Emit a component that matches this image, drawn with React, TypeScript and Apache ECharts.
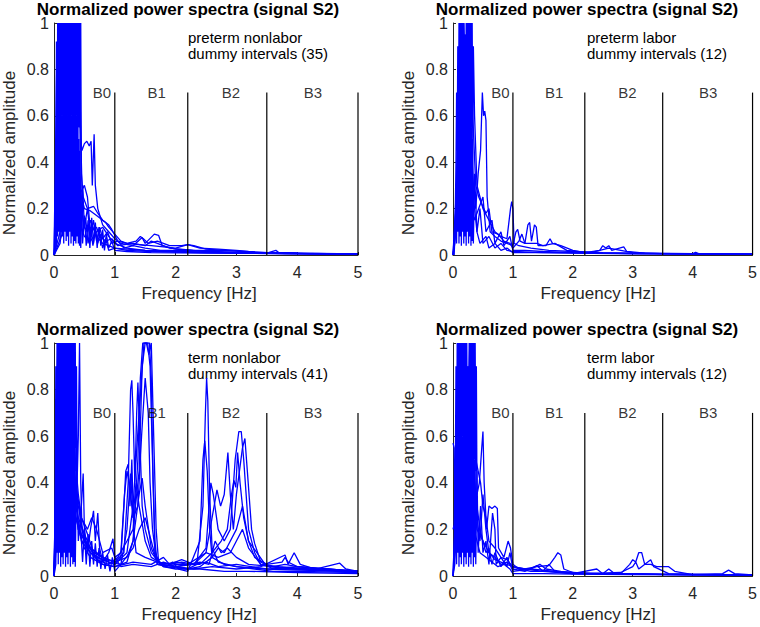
import React, { useEffect, useRef } from "react";
import * as echarts from "echarts";

type Pt = [number, number];

const xTicks = [0, 1, 2, 3, 4, 5];
const bandEdges = [1, 2.2, 3.5, 5];
const bandTop = 0.7;
const bandNames = ["B0", "B1", "B2", "B3"];
const bandLabelX = [0.79, 1.69, 2.91, 4.26];

const panelTitles = [
  "Normalized power spectra (signal S2)",
  "Normalized power spectra (signal S2)",
  "Normalized power spectra (signal S2)",
  "Normalized power spectra (signal S2)",
];
const groupNames = ["preterm nonlabor", "preterm labor", "term nonlabor", "term labor"];
const intervalCounts = [35, 12, 41, 12];

// preterm nonlabor
const ptNonlaborLines: Pt[][] = [
  [[0,0],[0.02,0.05],[0.03,0.3],[0.04,0.92],[0.05,0.45],[0.06,1],[0.07,0.5],[0.08,1],[0.09,0.55],[0.1,1],[0.11,0.45],[0.12,1],[0.13,0.6],[0.14,1],[0.15,0.5],[0.16,1],[0.17,0.55],[0.18,1],[0.19,0.45],[0.2,1],[0.21,0.6],[0.22,1],[0.23,0.5],[0.24,1],[0.25,0.55],[0.26,1],[0.27,0.45],[0.28,1],[0.29,0.6],[0.3,1],[0.31,0.5],[0.32,1],[0.33,0.55],[0.34,1],[0.35,0.45],[0.36,1],[0.37,0.6],[0.38,1],[0.39,0.5],[0.4,1],[0.41,0.55],[0.42,1],[0.43,0.45],[0.44,1],[0.45,0.35],[0.48,0.25],[0.55,0.2],[0.65,0.21],[0.72,0.18],[0.8,0.15],[0.9,0.13],[0.95,0.11],[1.05,0.06],[1.2,0.05],[1.4,0.045],[1.6,0.04],[1.8,0.035],[2.0,0.03],[2.2,0.045],[2.3,0.04],[2.5,0.025],[2.8,0.02],[3.0,0.018],[3.3,0.012],[3.6,0.01],[4,0.008],[4.5,0.006],[5,0.005]],
  [[0,0],[0.04,0.05],[0.05,0.5],[0.06,0.08],[0.07,0.65],[0.08,0.1],[0.09,0.6],[0.1,0.06],[0.11,0.65],[0.12,0.1],[0.13,0.6],[0.14,0.08],[0.15,0.65],[0.16,0.05],[0.17,0.6],[0.18,0.1],[0.19,0.65],[0.2,0.06],[0.21,0.6],[0.22,0.08],[0.23,0.65],[0.24,0.04],[0.25,0.6],[0.26,0.1],[0.27,0.65],[0.28,0.05],[0.29,0.6],[0.3,0.08],[0.31,0.65],[0.32,0.04],[0.33,0.6],[0.34,0.06],[0.35,0.65],[0.36,0.05],[0.37,0.6],[0.38,0.08],[0.39,0.55],[0.4,0.05],[0.41,0.5],[0.42,0.04],[0.43,0.45],[0.44,0.03],[0.47,0.3],[0.5,0.12],[0.55,0.1],[0.6,0.15],[0.7,0.08],[0.8,0.05],[0.9,0.04],[1,0.03],[1.2,0.025],[1.5,0.02],[2,0.015],[2.5,0.01],[3,0.008],[4,0.005],[5,0.004]],
  [[0.01,0],[0.04,0.2],[0.06,0.85],[0.08,0.5],[0.1,1],[0.12,0.6],[0.14,1],[0.16,0.5],[0.18,1],[0.2,0.55],[0.22,1],[0.24,0.5],[0.26,1],[0.28,0.6],[0.3,1],[0.32,0.55],[0.34,1],[0.36,0.5],[0.38,1],[0.4,0.6],[0.42,0.9],[0.44,0.5],[0.46,0.45],[0.5,0.48],[0.54,0.49],[0.58,0.47],[0.61,0.49],[0.63,0.3],[0.66,0.52],[0.68,0.3],[0.72,0.2],[0.8,0.13],[0.9,0.1],[1.0,0.07],[1.1,0.05],[1.3,0.04],[1.45,0.075],[1.5,0.05],[1.65,0.09],[1.72,0.085],[1.78,0.04],[2,0.025],[2.5,0.015],[3,0.01],[3.5,0.008],[3.65,0.02],[3.7,0.01],[4.2,0.006],[5,0.004]],
  [[0,0],[0.05,0.15],[0.1,0.6],[0.15,0.9],[0.2,0.7],[0.3,0.5],[0.4,0.35],[0.45,0.25],[0.5,0.2],[0.6,0.19],[0.7,0.17],[0.8,0.15],[0.85,0.14],[0.9,0.12],[1,0.09],[1.1,0.06],[1.2,0.05],[1.35,0.06],[1.42,0.08],[1.47,0.07],[1.55,0.05],[1.7,0.06],[1.9,0.04],[2.1,0.04],[2.2,0.045],[2.4,0.03],[2.7,0.025],[3,0.02],[3.2,0.015],[3.5,0.01],[4,0.007],[5,0.005]],
  [[0,0],[0.05,0.9],[0.08,0.3],[0.12,0.15],[0.2,0.2],[0.3,0.1],[0.4,0.15],[0.5,0.08],[0.6,0.06],[0.7,0.1],[0.8,0.12],[0.9,0.08],[1,0.05],[1.2,0.03],[1.5,0.02],[2,0.015],[3,0.01],[5,0.004]],
  [[0,0],[0.1,0.05],[0.2,0.3],[0.3,0.2],[0.4,0.25],[0.5,0.3],[0.55,0.25],[0.6,0.1],[0.7,0.12],[0.75,0.08],[0.85,0.06],[0.95,0.07],[1.05,0.04],[1.3,0.05],[1.5,0.04],[1.6,0.06],[1.7,0.05],[1.9,0.03],[2.3,0.02],[2.8,0.02],[3.2,0.012],[4,0.008],[5,0.005]],
  [[0,0],[0.15,0.1],[0.3,0.6],[0.4,0.9],[0.44,0.5],[0.48,0.1],[0.52,0.16],[0.56,0.05],[0.6,0.12],[0.64,0.04],[0.68,0.1],[0.72,0.05],[0.76,0.09],[0.8,0.03],[0.85,0.07],[0.9,0.02],[1,0.03],[1.2,0.02],[1.6,0.015],[2.4,0.01],[5,0.004]],
  [[0,0],[0.06,0.7],[0.1,0.95],[0.2,0.6],[0.3,0.35],[0.45,0.2],[0.5,0.12],[0.55,0.2],[0.6,0.08],[0.65,0.15],[0.7,0.06],[0.75,0.12],[0.8,0.07],[0.88,0.1],[0.95,0.05],[1.05,0.06],[1.15,0.03],[1.3,0.04],[1.5,0.03],[1.75,0.02],[2.2,0.02],[2.6,0.015],[3.1,0.01],[3.8,0.006],[5,0.004]],
  [[0,0],[0.2,0.2],[0.35,0.5],[0.44,0.3],[0.47,0.05],[0.5,0.17],[0.53,0.04],[0.56,0.15],[0.59,0.03],[0.62,0.16],[0.65,0.05],[0.68,0.14],[0.71,0.03],[0.74,0.12],[0.77,0.04],[0.8,0.11],[0.83,0.02],[0.86,0.09],[0.9,0.03],[0.95,0.06],[1,0.02],[1.2,0.015],[1.6,0.01],[2.5,0.008],[5,0.004]],
];

// preterm labor
const ptLaborLines: Pt[][] = [
  [[0,0],[0.03,0.05],[0.05,0.4],[0.06,0.7],[0.07,0.45],[0.08,0.9],[0.09,0.5],[0.1,1],[0.11,0.45],[0.12,1],[0.13,0.55],[0.14,1],[0.15,0.5],[0.16,1],[0.17,0.45],[0.18,1],[0.19,0.6],[0.2,0.95],[0.21,0.5],[0.22,1],[0.23,0.45],[0.24,1],[0.25,0.55],[0.26,1],[0.27,0.5],[0.28,1],[0.29,0.45],[0.3,1],[0.31,0.55],[0.32,1],[0.33,0.5],[0.34,0.9],[0.36,0.6],[0.4,0.3],[0.45,0.25],[0.5,0.2],[0.6,0.15],[0.7,0.1],[0.8,0.08],[0.9,0.07],[0.96,0.2],[0.98,0.23],[1.0,0.2],[1.02,0.05],[1.1,0.04],[1.3,0.03],[1.6,0.02],[2,0.015],[2.5,0.01],[3,0.008],[4,0.005],[5,0.004]],
  [[0,0],[0.04,0.1],[0.05,0.3],[0.06,0.05],[0.07,0.65],[0.08,0.1],[0.09,0.6],[0.1,0.05],[0.11,0.65],[0.12,0.08],[0.13,0.6],[0.14,0.04],[0.15,0.65],[0.16,0.1],[0.17,0.6],[0.18,0.05],[0.19,0.65],[0.2,0.08],[0.21,0.6],[0.22,0.04],[0.23,0.65],[0.24,0.1],[0.25,0.6],[0.26,0.05],[0.27,0.65],[0.28,0.08],[0.29,0.6],[0.3,0.04],[0.31,0.55],[0.32,0.06],[0.33,0.5],[0.34,0.05],[0.36,0.35],[0.4,0.1],[0.45,0.2],[0.5,0.05],[0.6,0.08],[0.7,0.03],[0.8,0.05],[0.9,0.02],[1,0.015],[1.5,0.01],[2,0.008],[3,0.005],[5,0.003]],
  [[0.02,0],[0.06,0.3],[0.1,0.85],[0.14,0.6],[0.18,1],[0.22,0.7],[0.26,0.95],[0.3,0.5],[0.34,0.3],[0.38,0.2],[0.42,0.35],[0.46,0.45],[0.49,0.7],[0.51,0.6],[0.53,0.62],[0.55,0.58],[0.57,0.25],[0.62,0.1],[0.7,0.08],[0.8,0.06],[0.9,0.05],[1.0,0.04],[1.05,0.1],[1.08,0.11],[1.12,0.06],[1.2,0.05],[1.25,0.13],[1.28,0.14],[1.31,0.06],[1.36,0.13],[1.39,0.12],[1.42,0.04],[1.55,0.04],[1.62,0.07],[1.66,0.05],[1.8,0.04],[2,0.02],[2.2,0.01],[2.45,0.02],[2.5,0.04],[2.55,0.03],[2.6,0.04],[2.65,0.02],[2.85,0.035],[2.9,0.015],[3.2,0.008],[4.0,0.006],[4.05,0.012],[4.1,0.006],[5,0.004]],
  [[0,0],[0.05,0.2],[0.1,0.6],[0.15,0.9],[0.2,0.5],[0.25,0.8],[0.3,1],[0.33,0.6],[0.38,0.3],[0.43,0.25],[0.48,0.22],[0.55,0.18],[0.6,0.2],[0.65,0.1],[0.75,0.09],[0.85,0.06],[0.95,0.05],[1,0.03],[1.1,0.06],[1.15,0.09],[1.2,0.05],[1.4,0.05],[1.5,0.04],[1.7,0.05],[1.9,0.02],[2.3,0.01],[2.6,0.03],[2.8,0.02],[3,0.01],[3.5,0.006],[5,0.004]],
  [[0,0],[0.08,0.4],[0.15,0.6],[0.2,0.3],[0.25,0.5],[0.3,0.3],[0.35,0.15],[0.4,0.18],[0.5,0.25],[0.55,0.1],[0.65,0.15],[0.7,0.05],[0.8,0.1],[0.85,0.04],[0.95,0.08],[1,0.02],[1.2,0.02],[1.5,0.015],[2,0.01],[3,0.006],[5,0.004]],
  [[0,0],[0.1,0.2],[0.2,0.95],[0.24,0.4],[0.28,0.9],[0.32,0.3],[0.4,0.1],[0.45,0.05],[0.55,0.08],[0.6,0.03],[0.7,0.05],[0.8,0.02],[0.9,0.03],[1,0.01],[1.6,0.01],[2.5,0.008],[5,0.003]],
];

// term nonlabor
const tNonlaborLines: Pt[][] = [
  [[0,0],[0.02,0.3],[0.03,0.9],[0.04,0.5],[0.05,1],[0.06,0.45],[0.07,1],[0.08,0.55],[0.09,1],[0.1,0.5],[0.11,1],[0.12,0.45],[0.13,1],[0.14,0.6],[0.15,1],[0.16,0.5],[0.17,1],[0.18,0.55],[0.19,1],[0.2,0.45],[0.21,1],[0.22,0.6],[0.23,1],[0.24,0.5],[0.25,1],[0.26,0.55],[0.27,1],[0.28,0.45],[0.29,1],[0.3,0.6],[0.31,1],[0.32,0.5],[0.33,1],[0.34,0.55],[0.35,1],[0.36,0.45],[0.37,0.9],[0.38,0.4],[0.4,0.6],[0.42,1],[0.44,0.4],[0.46,0.2],[0.5,0.15],[0.6,0.12],[0.7,0.1],[0.8,0.08],[0.9,0.06],[1,0.05],[1.1,0.08],[1.15,0.3],[1.18,0.45],[1.22,0.48],[1.25,0.3],[1.28,0.5],[1.31,0.2],[1.35,0.1],[1.5,0.08],[1.7,0.06],[1.9,0.05],[2.1,0.06],[2.3,0.05],[2.5,0.06],[2.7,0.04],[3,0.05],[3.5,0.03],[4,0.03],[4.5,0.025],[5,0.02]],
  [[0,0],[0.03,0.05],[0.04,0.6],[0.05,0.1],[0.06,0.65],[0.07,0.05],[0.08,0.6],[0.09,0.1],[0.1,0.65],[0.11,0.04],[0.12,0.6],[0.13,0.08],[0.14,0.65],[0.15,0.05],[0.16,0.6],[0.17,0.1],[0.18,0.65],[0.19,0.04],[0.2,0.6],[0.21,0.08],[0.22,0.65],[0.23,0.05],[0.24,0.6],[0.25,0.1],[0.26,0.65],[0.27,0.04],[0.28,0.6],[0.29,0.08],[0.3,0.65],[0.31,0.05],[0.32,0.6],[0.33,0.06],[0.34,0.55],[0.35,0.04],[0.37,0.5],[0.4,0.15],[0.45,0.3],[0.48,0.44],[0.5,0.2],[0.55,0.1],[0.6,0.2],[0.65,0.28],[0.68,0.15],[0.72,0.27],[0.75,0.12],[0.8,0.06],[0.9,0.1],[0.97,0.16],[1.0,0.08],[1.1,0.04],[1.3,0.05],[1.6,0.04],[1.8,0.06],[2.0,0.04],[2.3,0.03],[2.6,0.04],[3,0.03],[3.4,0.04],[3.8,0.09],[3.85,0.05],[3.95,0.1],[4.05,0.05],[4.3,0.03],[4.7,0.055],[4.8,0.03],[5,0.02]],
  [[0,0],[0.05,0.6],[0.1,1],[0.15,0.7],[0.2,1],[0.25,0.6],[0.3,0.9],[0.35,0.4],[0.4,0.2],[0.5,0.12],[0.6,0.08],[0.8,0.05],[1,0.04],[1.2,0.06],[1.3,0.15],[1.38,0.5],[1.42,0.85],[1.46,1],[1.52,1],[1.56,0.95],[1.6,1],[1.64,0.6],[1.68,0.2],[1.72,0.06],[1.8,0.04],[2,0.03],[2.4,0.03],[2.8,0.02],[3.2,0.02],[4,0.015],[5,0.01]],
  [[0,0],[0.08,0.9],[0.14,0.5],[0.2,0.8],[0.28,0.5],[0.36,0.3],[0.45,0.15],[0.6,0.1],[0.8,0.07],[1,0.05],[1.2,0.1],[1.3,0.3],[1.4,0.7],[1.48,1],[1.54,1],[1.58,0.9],[1.62,0.5],[1.66,0.15],[1.7,0.05],[1.85,0.04],[1.95,0.06],[2.05,0.03],[2.2,0.02],[2.4,0.15],[2.45,0.5],[2.48,0.58],[2.52,0.45],[2.56,0.2],[2.6,0.08],[2.8,0.05],[3,0.04],[3.3,0.03],[3.6,0.02],[4,0.02],[5,0.015]],
  [[0,0],[0.04,0.2],[0.08,0.7],[0.12,0.95],[0.18,0.6],[0.25,0.4],[0.35,0.25],[0.45,0.18],[0.6,0.12],[0.8,0.08],[1,0.06],[1.15,0.1],[1.22,0.4],[1.26,0.8],[1.28,0.84],[1.3,0.7],[1.33,0.4],[1.36,0.7],[1.38,0.83],[1.41,0.6],[1.45,0.3],[1.5,0.2],[1.6,0.1],[1.75,0.05],[2,0.04],[2.2,0.03],[2.35,0.05],[2.45,0.3],[2.49,0.7],[2.51,0.85],[2.53,0.75],[2.56,0.35],[2.6,0.12],[2.7,0.06],[3,0.04],[3.5,0.03],[4,0.025],[5,0.02]],
  [[0,0],[0.06,0.4],[0.12,1],[0.2,0.7],[0.3,0.5],[0.4,0.3],[0.5,0.15],[0.7,0.08],[0.9,0.06],[1.1,0.05],[1.3,0.12],[1.4,0.2],[1.5,0.25],[1.6,0.15],[1.7,0.05],[2,0.04],[2.3,0.05],[2.5,0.12],[2.58,0.4],[2.62,0.35],[2.7,0.2],[2.8,0.15],[2.9,0.2],[2.98,0.5],[3.04,0.62],[3.08,0.62],[3.12,0.5],[3.2,0.2],[3.3,0.1],[3.4,0.05],[3.6,0.04],[3.8,0.05],[4,0.04],[4.4,0.03],[5,0.02]],
  [[0,0],[0.05,0.3],[0.1,0.8],[0.16,1],[0.22,0.6],[0.3,0.35],[0.4,0.2],[0.6,0.1],[0.8,0.05],[1,0.04],[1.3,0.06],[1.6,0.05],[1.8,0.08],[1.9,0.05],[2.1,0.07],[2.3,0.05],[2.5,0.1],[2.6,0.25],[2.68,0.37],[2.74,0.3],[2.8,0.35],[2.86,0.53],[2.9,0.35],[2.95,0.2],[3.0,0.35],[3.1,0.55],[3.14,0.59],[3.18,0.45],[3.25,0.2],[3.3,0.14],[3.4,0.06],[3.6,0.03],[4,0.04],[4.5,0.03],[5,0.02]],
  [[0,0],[0.08,0.5],[0.15,0.9],[0.22,1],[0.28,0.7],[0.35,0.4],[0.45,0.25],[0.55,0.18],[0.65,0.1],[0.8,0.08],[1,0.06],[1.2,0.08],[1.3,0.15],[1.4,0.35],[1.45,0.42],[1.5,0.3],[1.6,0.12],[1.7,0.06],[2,0.05],[2.4,0.05],[2.6,0.1],[2.75,0.15],[2.85,0.2],[2.92,0.35],[2.96,0.41],[2.99,0.38],[3.02,0.53],[3.06,0.4],[3.12,0.25],[3.2,0.15],[3.3,0.08],[3.5,0.05],[3.75,0.06],[3.8,0.08],[3.85,0.06],[4,0.04],[5,0.02]],
  [[0,0],[0.03,0.1],[0.07,0.9],[0.13,1],[0.19,0.7],[0.25,1],[0.32,0.6],[0.4,0.35],[0.45,0.25],[0.55,0.2],[0.62,0.25],[0.7,0.2],[0.8,0.1],[0.95,0.12],[1,0.08],[1.1,0.1],[1.16,0.35],[1.2,0.45],[1.24,0.4],[1.3,0.25],[1.35,0.4],[1.4,0.3],[1.5,0.15],[1.6,0.08],[1.8,0.05],[2,0.06],[2.2,0.05],[2.5,0.1],[2.7,0.08],[2.9,0.1],[3.0,0.15],[3.1,0.2],[3.2,0.12],[3.4,0.05],[3.7,0.04],[4.2,0.03],[5,0.02]],
  [[0,0],[0.1,0.9],[0.2,0.6],[0.3,0.4],[0.42,0.3],[0.47,0.06],[0.5,0.2],[0.53,0.05],[0.56,0.18],[0.59,0.04],[0.62,0.15],[0.65,0.05],[0.68,0.14],[0.71,0.04],[0.74,0.12],[0.77,0.03],[0.8,0.1],[0.84,0.03],[0.88,0.09],[0.92,0.02],[0.96,0.08],[1,0.02],[1.1,0.05],[1.2,0.2],[1.26,0.44],[1.3,0.25],[1.38,0.3],[1.44,0.6],[1.5,0.85],[1.55,0.7],[1.58,0.4],[1.62,0.2],[1.68,0.08],[1.8,0.04],[2.2,0.03],[2.4,0.04],[2.6,0.08],[2.7,0.12],[2.8,0.1],[3,0.2],[3.1,0.3],[3.2,0.15],[3.5,0.04],[4,0.03],[5,0.015]],
  [[0,0],[0.06,0.95],[0.12,0.7],[0.2,0.9],[0.3,0.5],[0.4,0.25],[0.5,0.18],[0.6,0.12],[0.7,0.07],[0.9,0.05],[1.05,0.08],[1.2,0.15],[1.3,0.2],[1.4,0.45],[1.45,0.9],[1.5,1],[1.57,1],[1.6,0.85],[1.63,0.4],[1.66,0.1],[1.75,0.05],[2,0.04],[2.2,0.05],[2.4,0.06],[2.55,0.05],[2.65,0.15],[2.75,0.1],[2.85,0.12],[3,0.08],[3.2,0.05],[3.6,0.04],[4,0.03],[4.5,0.03],[5,0.02]],
];

// term labor
const tLaborLines: Pt[][] = [
  [[0,0.2],[0.02,0.22],[0.04,0.5],[0.05,0.9],[0.06,0.5],[0.07,1],[0.08,0.45],[0.09,1],[0.1,0.55],[0.11,1],[0.12,0.5],[0.13,1],[0.14,0.45],[0.15,1],[0.16,0.6],[0.17,1],[0.18,0.5],[0.19,1],[0.2,0.45],[0.21,1],[0.22,0.55],[0.23,1],[0.24,0.5],[0.25,0.9],[0.26,0.45],[0.27,1],[0.28,0.6],[0.29,1],[0.3,0.5],[0.31,1],[0.32,0.45],[0.33,1],[0.34,0.55],[0.35,1],[0.36,0.5],[0.37,1],[0.38,0.45],[0.39,0.9],[0.4,0.35],[0.44,0.4],[0.48,0.55],[0.5,0.62],[0.52,0.4],[0.56,0.2],[0.6,0.3],[0.65,0.29],[0.7,0.3],[0.74,0.29],[0.76,0.12],[0.85,0.08],[0.92,0.15],[0.96,0.12],[1.0,0.05],[1.1,0.03],[1.3,0.03],[1.5,0.025],[1.7,0.02],[2,0.015],[2.5,0.01],[3,0.01],[4,0.006],[5,0.005]],
  [[0,0.57],[0.02,0.55],[0.04,0.1],[0.05,0.6],[0.06,0.05],[0.07,0.65],[0.08,0.1],[0.09,0.6],[0.1,0.04],[0.11,0.65],[0.12,0.08],[0.13,0.6],[0.14,0.05],[0.15,0.65],[0.16,0.1],[0.17,0.6],[0.18,0.04],[0.19,0.65],[0.2,0.08],[0.21,0.6],[0.22,0.05],[0.23,0.65],[0.24,0.1],[0.25,0.6],[0.26,0.04],[0.27,0.65],[0.28,0.08],[0.29,0.6],[0.3,0.05],[0.31,0.65],[0.32,0.1],[0.33,0.6],[0.34,0.04],[0.35,0.55],[0.36,0.08],[0.37,0.5],[0.38,0.05],[0.4,0.45],[0.42,0.1],[0.46,0.3],[0.5,0.1],[0.55,0.15],[0.6,0.05],[0.66,0.27],[0.7,0.2],[0.72,0.05],[0.8,0.08],[0.9,0.04],[0.95,0.1],[1,0.03],[1.2,0.02],[1.4,0.045],[1.5,0.02],[1.6,0.05],[1.7,0.02],[2,0.01],[2.4,0.03],[2.5,0.01],[2.6,0.03],[2.7,0.01],[3,0.01],[3.5,0.006],[5,0.004]],
  [[0,0],[0.04,0.3],[0.08,0.9],[0.12,1],[0.16,0.7],[0.2,0.95],[0.24,0.6],[0.28,1],[0.32,0.5],[0.36,0.4],[0.4,0.3],[0.45,0.2],[0.5,0.15],[0.6,0.1],[0.7,0.08],[0.8,0.05],[0.9,0.06],[1,0.04],[1.2,0.03],[1.4,0.04],[1.6,0.045],[1.7,0.08],[1.75,0.1],[1.8,0.09],[1.85,0.03],[2,0.015],[2.3,0.01],[2.8,0.01],[2.95,0.05],[3,0.07],[3.05,0.06],[3.1,0.1],[3.15,0.1],[3.2,0.05],[3.3,0.05],[3.4,0.04],[3.6,0.04],[3.7,0.02],[4,0.006],[4.5,0.01],[4.6,0.025],[4.7,0.01],[5,0.005]],
  [[0,0],[0.06,0.2],[0.1,0.5],[0.15,0.8],[0.2,0.6],[0.25,0.9],[0.3,0.5],[0.35,0.3],[0.4,0.2],[0.5,0.15],[0.55,0.1],[0.6,0.12],[0.65,0.05],[0.7,0.1],[0.8,0.04],[0.9,0.08],[0.95,0.05],[1,0.02],[1.3,0.03],[1.45,0.05],[1.55,0.03],[1.8,0.02],[2.2,0.01],[2.8,0.015],[3,0.04],[3.05,0.06],[3.1,0.03],[3.3,0.07],[3.35,0.04],[3.6,0.01],[5,0.004]],
  [[0,0],[0.03,0.05],[0.07,0.4],[0.1,0.3],[0.15,0.5],[0.2,0.45],[0.25,0.3],[0.3,0.4],[0.35,0.2],[0.45,0.1],[0.55,0.08],[0.65,0.06],[0.75,0.04],[0.85,0.05],[0.95,0.03],[1,0.01],[1.5,0.01],[2,0.008],[3,0.006],[5,0.004]],
  [[0,0],[0.05,0.15],[0.1,0.35],[0.2,0.25],[0.3,0.35],[0.4,0.25],[0.45,0.15],[0.5,0.35],[0.55,0.2],[0.6,0.1],[0.7,0.07],[0.8,0.06],[0.9,0.05],[1,0.04],[1.1,0.03],[1.3,0.02],[1.6,0.02],[2,0.01],[3,0.008],[5,0.004]],
  [[0,0],[0.05,0.3],[0.1,0.55],[0.2,0.7],[0.3,0.6],[0.38,0.5],[0.42,0.45],[0.46,0.4],[0.5,0.3],[0.55,0.25],[0.6,0.15],[0.7,0.12],[0.8,0.08],[0.9,0.07],[1,0.04],[1.2,0.03],[1.5,0.02],[2,0.01],[3,0.008],[5,0.004]],
];

const panelLines = [ptNonlaborLines, ptLaborLines, tNonlaborLines, tLaborLines];

const FONT = "'Liberation Sans', Arial, Helvetica, sans-serif";
const grids = [
  { left: 54, top: 23, width: 304, height: 232 },
  { left: 453, top: 23, width: 303, height: 232 },
  { left: 54, top: 343, width: 304, height: 233 },
  { left: 453, top: 343, width: 303, height: 233 },
];

export default function App() {
  const ref = useRef<HTMLDivElement>(null);
  useEffect(() => {
    if (!ref.current) return;
    const chart = echarts.init(ref.current, undefined, { renderer: "svg" });
    const xAxis: any[] = [];
    const yAxis: any[] = [];
    const series: any[] = [];
    const graphic: any[] = [];
    grids.forEach((g, i) => {
      xAxis.push({
        gridIndex: i, type: "value", min: xTicks[0], max: xTicks[xTicks.length - 1], interval: 1,
        axisLine: { show: true, onZero: false, lineStyle: { color: "#262626", width: 1 } },
        axisTick: { show: true, inside: true, length: 3, lineStyle: { color: "#262626" } },
        axisLabel: { color: "#262626", fontSize: 16, fontFamily: FONT, margin: 9 },
        splitLine: { show: false },
      });
      yAxis.push({
        gridIndex: i, type: "value", min: 0, max: 1, interval: 0.2,
        axisLine: { show: true, onZero: false, lineStyle: { color: "#262626", width: 1 } },
        axisTick: { show: true, inside: true, length: 3, lineStyle: { color: "#262626" } },
        axisLabel: { color: "#262626", fontSize: 16, fontFamily: FONT, margin: 5, lineHeight: 12 },
        splitLine: { show: false },
      });
      panelLines[i].forEach((d) => {
        series.push({
          type: "line", xAxisIndex: i, yAxisIndex: i, data: d, symbol: "none",
          showSymbol: false, clip: true, silent: true,
          lineStyle: { color: "#0000ff", width: 1.3 },
        });
      });
      bandEdges.forEach((b) => {
        series.push({
          type: "line", xAxisIndex: i, yAxisIndex: i, data: [[b, 0], [b, bandTop]],
          symbol: "none", silent: true, clip: false, z: 5,
          lineStyle: { color: "#000000", width: 1.2 },
        });
      });
      series.push({
        type: "scatter", xAxisIndex: i, yAxisIndex: i, symbolSize: 0, silent: true, z: 6,
        data: bandNames.map((n, k) => ({ name: n, value: [bandLabelX[k], bandTop] })),
        label: { show: true, position: "inside", formatter: "{b}", color: "#000", fontSize: 15, fontFamily: FONT },
      });
      graphic.push({
        type: "text", x: g.left + 134, y: g.top - 14,
        style: { text: panelTitles[i], fill: "#000", font: `bold 17px ${FONT}`, textAlign: "center", textVerticalAlign: "middle", lineHeight: 15 },
      });
      graphic.push({
        type: "text", x: g.left + 134, y: g.top + 22,
        style: { text: `${groupNames[i]}\ndummy intervals (${intervalCounts[i]})`, fill: "#000", font: `15px ${FONT}`, textAlign: "left", textVerticalAlign: "middle", lineHeight: 16 },
      });
      graphic.push({
        type: "text", x: g.left + 145, y: g.top + g.height + 38,
        style: { text: "Frequency [Hz]", fill: "#262626", font: `17px ${FONT}`, textAlign: "center", textVerticalAlign: "middle" },
      });
      graphic.push({
        type: "text", x: g.left - 45, y: g.top + 130, rotation: Math.PI / 2,
        style: { text: "Normalized amplitude", fill: "#262626", font: `17px ${FONT}`, textAlign: "center", textVerticalAlign: "middle" },
      });
    });
    chart.setOption({
      animation: false,
      backgroundColor: "#ffffff",
      grid: grids.map((g) => ({ ...g, containLabel: false })),
      xAxis, yAxis, series, graphic,
    });
    return () => chart.dispose();
  }, []);
  return <div ref={ref} style={{ position: "fixed", left: 0, top: 0, width: 760, height: 627 }} />;
}
